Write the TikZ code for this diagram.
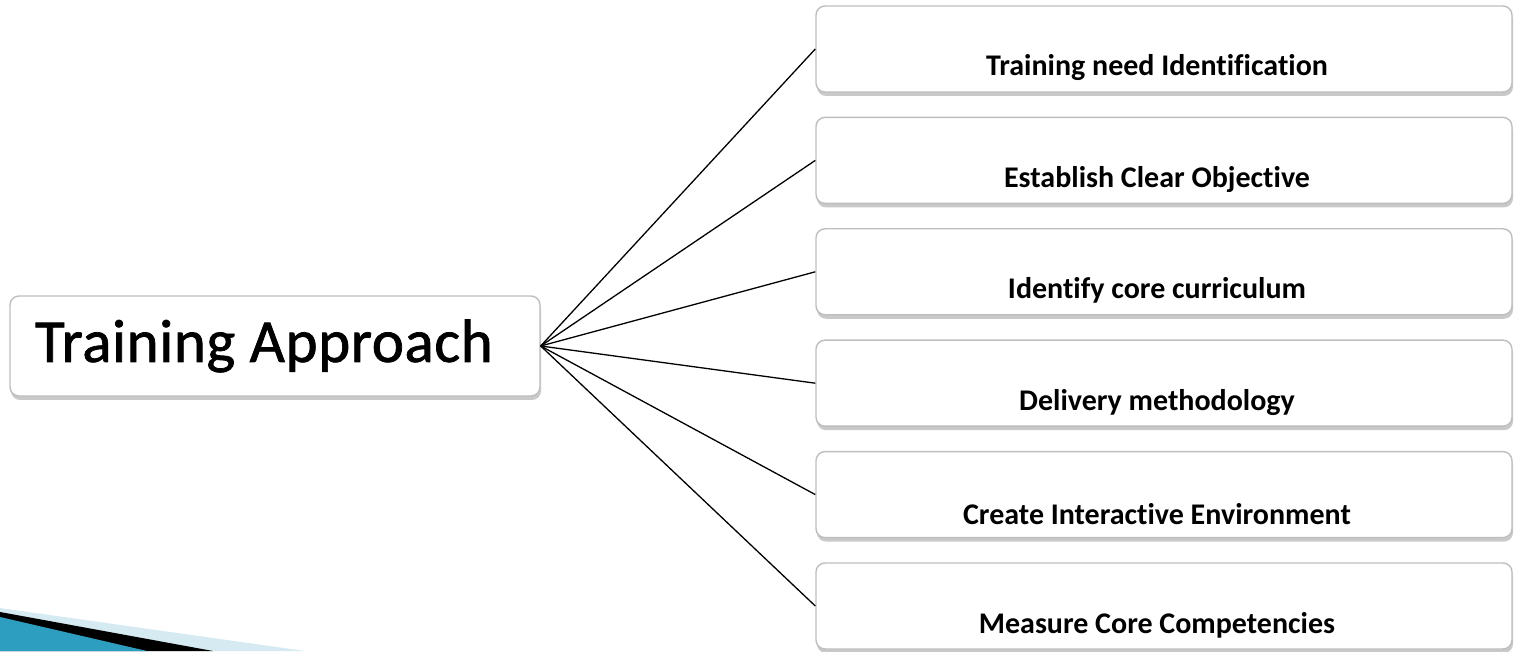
\documentclass[tikz,border=0pt]{standalone}
\usepackage{fontspec}
\setmainfont{Carlito}[Ligatures=NoCommon]
\newfontfamily\rootfont{Carlito}[Ligatures=NoCommon, FakeBold=1.2, LetterSpace=1]
\usetikzlibrary{shadows}
\definecolor{boxline}{RGB}{190,190,190}
\definecolor{swteal}{RGB}{46,158,192}
\definecolor{swlight}{RGB}{214,234,242}
\tikzset{
  x=1pt,y=1pt,
  rbox/.style={draw=boxline, line width=1.4pt, fill=white, rounded corners=9pt,
    drop shadow={shadow xshift=1pt, shadow yshift=-4pt, opacity=0.3, fill=black!70}},
  stepbox/.style={rbox, minimum width=696pt, minimum height=86pt, inner sep=0pt},
  steplabel/.style={font=\bfseries\fontsize{30}{33}\selectfont, inner sep=0pt},
  conn/.style={draw=black, line width=1.3pt},
}
\begin{document}
\begin{tikzpicture}
\useasboundingbox (0,0) rectangle (1516,651);
% decorative swoosh
\fill[swlight] (0,43) -- (305,0) -- (0,0) -- cycle;
\fill[black] (0,39) -- (213,0) -- (0,0) -- cycle;
\fill[swteal] (0,34) -- (147,0) -- (0,0) -- cycle;
% root
\node[rbox, minimum width=530pt, minimum height=100pt, inner sep=0pt] (root) at (275,305) {};
\node[font=\rootfont\fontsize{61}{64}\selectfont, inner sep=0pt] (roottext) at (264,305) {Training Approach};
% step boxes
\node[stepbox] (b1) at (1164,602) {};
\node[stepbox] (b2) at (1164,490.6) {};
\node[stepbox] (b3) at (1164,379.2) {};
\node[stepbox] (b4) at (1164,267.8) {};
\node[stepbox] (b5) at (1164,156.4) {};
\node[stepbox] (b6) at (1164,45) {};
\node[steplabel] (t1) at (1157,583) {Training need Identification};
\node[steplabel] (t2) at (1157,471.6) {Establish Clear Objective};
\node[steplabel] (t3) at (1157,360.2) {Identify core curriculum};
\node[steplabel] (t4) at (1157,248.8) {Delivery methodology};
\node[steplabel] (t5) at (1157,137.4) {Create Interactive Environment};
\node[steplabel] (t6) at (1157,26) {Measure Core Competencies};
% connectors
\foreach \i in {1,...,6} \draw[conn] (root.east) -- (b\i.west);
\end{tikzpicture}
\end{document}
